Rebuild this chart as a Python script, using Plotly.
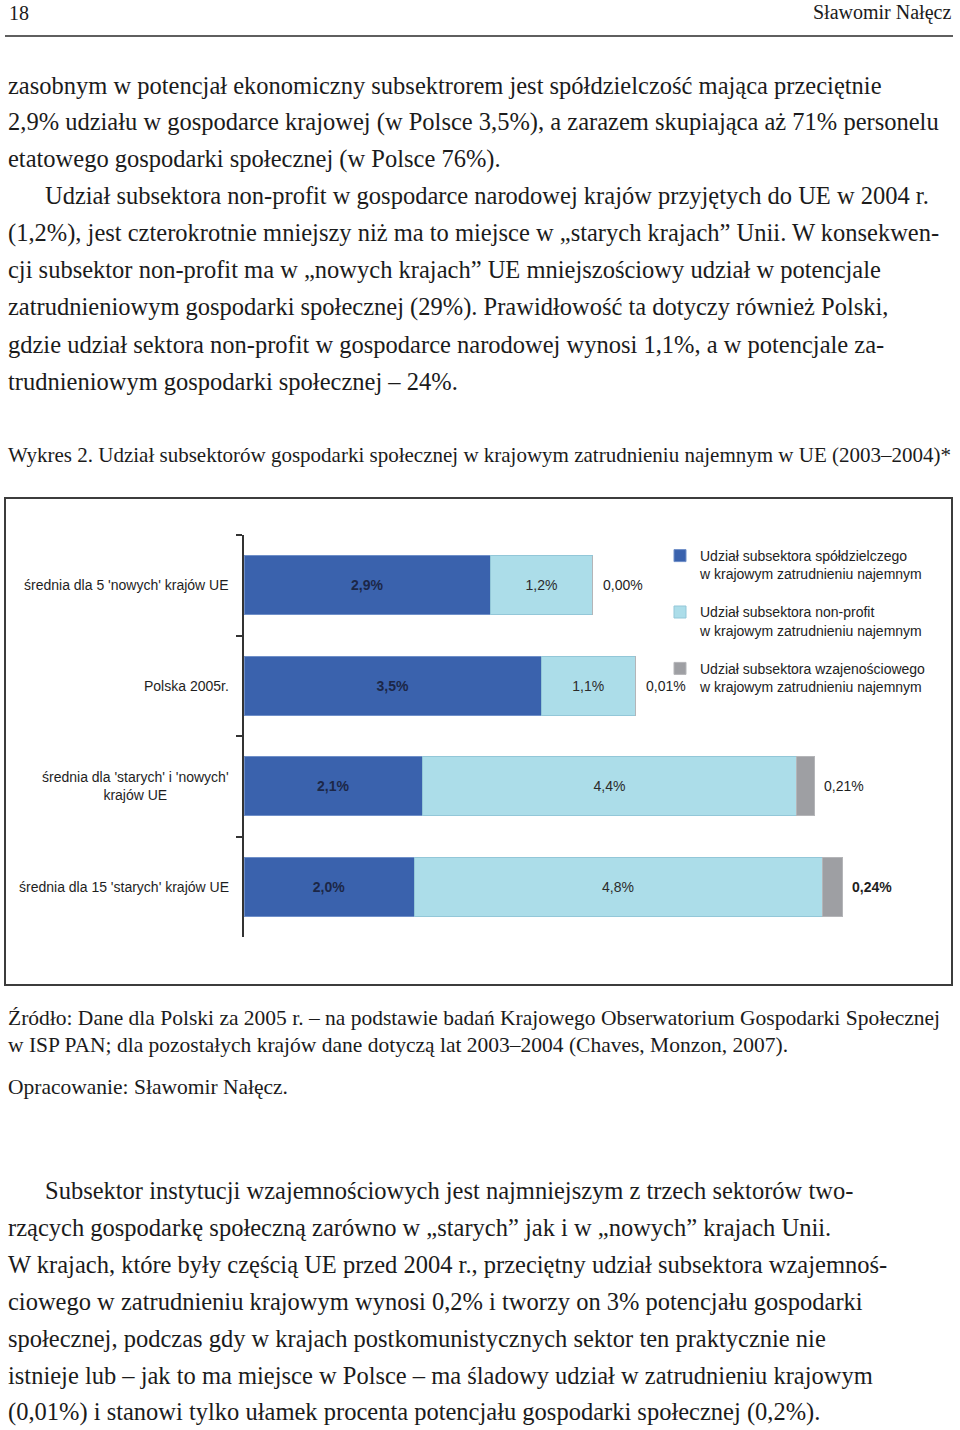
import plotly.graph_objects as go

W, H = 960, 1430

# ---------------- dane wykresu ----------------
kategorie = [
    "średnia dla 5 'nowych' krajów UE",
    "Polska 2005r.",
    "średnia dla 'starych' i 'nowych'<br>krajów UE",
    "średnia dla 15 'starych' krajów UE",
]
spoldzielczy = [2.9, 3.5, 2.1, 2.0]
non_profit = [1.2, 1.1, 4.4, 4.8]
wzajemnosciowy = [0.00, 0.01, 0.21, 0.24]

nazwy_serii = [
    "Udział subsektora spółdzielczego<br>w krajowym zatrudnieniu najemnym",
    "Udział subsektora non-profit<br>w krajowym zatrudnieniu najemnym",
    "Udział subsektora wzajenościowego<br>w krajowym zatrudnieniu najemnym",
]

# ---------------- tekst strony ----------------
naglowek_lewy = "18"
naglowek_prawy = "Sławomir Nałęcz"

akapit_1 = [
    "zasobnym w potencjał ekonomiczny subsektrorem jest spółdzielczość mająca przeciętnie",
    "2,9% udziału w gospodarce krajowej (w Polsce 3,5%), a zarazem skupiająca aż 71% personelu",
    "etatowego gospodarki społecznej (w Polsce 76%).",
    "Udział subsektora non-profit w gospodarce narodowej krajów przyjętych do UE w 2004 r.",
    "(1,2%), jest czterokrotnie mniejszy niż ma to miejsce w „starych krajach” Unii. W konsekwen-",
    "cji subsektor non-profit ma w „nowych krajach” UE mniejszościowy udział w potencjale",
    "zatrudnieniowym gospodarki społecznej (29%). Prawidłowość ta dotyczy również Polski,",
    "gdzie udział sektora non-profit w gospodarce narodowej wynosi 1,1%, a w potencjale za-",
    "trudnieniowym gospodarki społecznej – 24%.",
]
akapit_1_wciecie = [False, False, False, True, False, False, False, False, False]

podpis = ("Wykres 2. Udział subsektorów gospodarki społecznej w krajowym zatrudnieniu "
          "najemnym w UE (2003–2004)*")

zrodlo = [
    "Źródło: Dane dla Polski za 2005 r. – na podstawie badań Krajowego Obserwatorium Gospodarki Społecznej",
    "w ISP PAN; dla pozostałych krajów dane dotyczą lat 2003–2004 (Chaves, Monzon, 2007).",
]
opracowanie = "Opracowanie: Sławomir Nałęcz."

akapit_2 = [
    "Subsektor instytucji wzajemnościowych jest najmniejszym z trzech sektorów two-",
    "rzących gospodarkę społeczną zarówno w „starych” jak i w „nowych” krajach Unii.",
    "W krajach, które były częścią UE przed 2004 r., przeciętny udział subsektora wzajemnoś-",
    "ciowego w zatrudnieniu krajowym wynosi 0,2% i tworzy on 3% potencjału gospodarki",
    "społecznej, podczas gdy w krajach postkomunistycznych sektor ten praktycznie nie",
    "istnieje lub – jak to ma miejsce w Polsce – ma śladowy udział w zatrudnieniu krajowym",
    "(0,01%) i stanowi tylko ułamek procenta potencjału gospodarki społecznej (0,2%).",
]

SERIF = "Liberation Serif, Times New Roman, serif"
SANS = "Liberation Sans, Arial, sans-serif"
KOLOR_TEKSTU = "#1b1b1b"


def px(x):
    return x / W


def py(y):
    return 1 - y / H


def proc(v, n=1):
    return f"{v:.{n}f}".replace(".", ",") + "%"


def tekst(x, y, t, size, anchor="left"):
    fig.add_annotation(x=px(x), y=py(y), xref="paper", yref="paper", text=t,
                       showarrow=False, xanchor=anchor, yanchor="middle",
                       font=dict(family=SERIF, size=size, color=KOLOR_TEKSTU))


fig = go.Figure()

fig.add_trace(go.Bar(
    y=kategorie, x=spoldzielczy, orientation="h", name=nazwy_serii[0],
    legendgroup="a",
    marker=dict(color="#3a62ad", line=dict(color="#6f8fc8", width=1)),
    text=[proc(v) for v in spoldzielczy], textposition="inside",
    insidetextanchor="middle",
    textfont=dict(family=SANS, size=14, color="#1c2747", weight="bold"),
))
fig.add_trace(go.Bar(
    y=kategorie, x=non_profit, orientation="h", name=nazwy_serii[1],
    legendgroup="b",
    marker=dict(color="#acdde9", line=dict(color="#93c7d8", width=1)),
    text=[proc(v) for v in non_profit], textposition="inside",
    insidetextanchor="middle",
    textfont=dict(family=SANS, size=14, color="#2b2b2b"),
))
fig.add_trace(go.Bar(
    y=kategorie, x=wzajemnosciowy, orientation="h", name=nazwy_serii[2],
    legendgroup="c",
    marker=dict(color="#9e9fa3", line=dict(color="#b4b5b8", width=1)),
))

# etykiety kategorii (wyśrodkowane wiersze, jak w oryginale)
for k in kategorie:
    fig.add_annotation(
        x=px(231), xref="paper", y=k, yref="y", text=k, showarrow=False,
        xanchor="right", yanchor="middle", align="center",
        font=dict(family=SANS, size=14, color="#1e1e1e"),
    )

# etykiety udziału subsektora wzajemnościowego (na prawo od słupków)
for i, k in enumerate(kategorie):
    koniec = spoldzielczy[i] + non_profit[i] + wzajemnosciowy[i]
    t = proc(wzajemnosciowy[i], 2)
    if i == len(kategorie) - 1:
        t = "<b>" + t + "</b>"
    fig.add_annotation(
        x=koniec, y=k, text=t, showarrow=False, xanchor="left", yanchor="middle",
        xshift=8, font=dict(family=SANS, size=14, color="#1e1e1e"),
    )

# ---------------- tekst strony ----------------
tekst(7, 13, naglowek_lewy, 20)
tekst(953, 13, naglowek_prawy, 20, anchor="right")

for i, linia in enumerate(akapit_1):
    tekst(43 if akapit_1_wciecie[i] else 6, 85 + 37 * i, linia, 24.5)

tekst(6, 455, podpis, 21)
for i, linia in enumerate(zrodlo):
    tekst(6, 1018 + 27 * i, linia, 21.5)
tekst(6, 1087, opracowanie, 21.5)

for i, linia in enumerate(akapit_2):
    tekst(43 if i == 0 else 6, 1190 + 37 * i, linia, 24.5)

# linia pod nagłówkiem i ramka wykresu
fig.add_shape(type="line", xref="paper", yref="paper",
              x0=px(5), x1=px(953), y0=py(36), y1=py(36),
              line=dict(color="#2a2a2a", width=1.5))
fig.add_shape(type="rect", xref="paper", yref="paper",
              x0=px(5), x1=px(952), y0=py(985), y1=py(498),
              line=dict(color="#3c3c3c", width=2))

fig.update_layout(
    width=W, height=H,
    margin=dict(l=0, r=0, t=0, b=0),
    paper_bgcolor="white", plot_bgcolor="white",
    barmode="stack", bargap=0.41,
    showlegend=True,
    legend=dict(
        x=px(660), y=py(540), xanchor="left", yanchor="top",
        traceorder="grouped", tracegroupgap=17, valign="top",
        font=dict(family=SANS, size=14, color="#222222"),
        bgcolor="rgba(0,0,0,0)",
    ),
    xaxis=dict(domain=[px(244), px(244 + 85 * 8)], range=[0, 8], visible=False),
    yaxis=dict(
        domain=[py(937), py(535)], type="category", autorange="reversed",
        showline=True, linecolor="#333333", linewidth=2,
        ticks="outside", tickson="boundaries", ticklen=6, tickwidth=2,
        tickcolor="#333333", showticklabels=False, showgrid=False, zeroline=False,
    ),
)

# strona ma wypełniać całe okno, bez domyślnego marginesu <body>
fig.write_html("out.html", config={"displayModeBar": False},
               post_script="document.body.style.margin = '0';")
